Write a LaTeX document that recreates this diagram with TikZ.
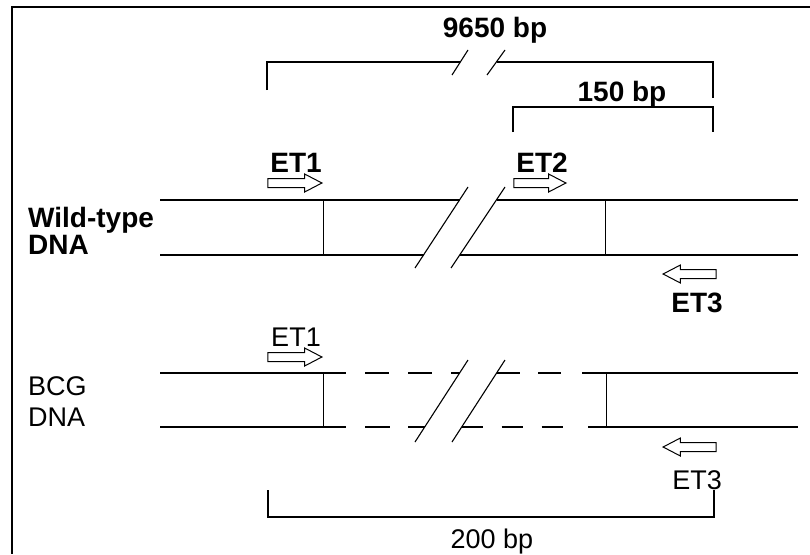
\documentclass[tikz,border=0pt]{standalone}
\usepackage{fontspec}
\setmainfont{Liberation Sans}
\usetikzlibrary{shapes.arrows}

\begin{document}
\begin{tikzpicture}[x=1pt,y=-1pt,
  dna/.style={line width=2.2pt},
  rung/.style={line width=0.8pt},
  brace/.style={line width=1.1pt},
  cut/.style={line width=1.1pt},
  gap/.style={line width=2.2pt,dash pattern=on 24pt off 19pt},
  lbl/.style={font=\fontsize{28}{30}\selectfont\bfseries,inner sep=0pt,anchor=base},
  lbln/.style={font=\fontsize{27}{29}\selectfont,inner sep=0pt,anchor=base},
  primer/.style={single arrow,draw,line width=1pt,inner sep=4pt,text height=0pt,text depth=0pt,text width=0pt,
    minimum height=54pt,single arrow head extend=4.5pt,single arrow tip angle=55,anchor=tip}]
\useasboundingbox (0,0) rectangle (810,554);
% frame
\draw[line width=1.5pt] (810,7) -- (12,7) -- (12,554);

% 9650 bp
\node[lbl] (l9650) at (495,37) {9650 bp};
\draw[brace] (267,90) -- (267,62) -- (460,62);
\draw[brace] (497,62) -- (713,62) -- (713,98);
\draw[cut] (452,75) -- (468,50);
\draw[cut] (487,75) -- (505,50);
% 150 bp
\node[lbl] (l150) at (622,101) {150 bp};
\draw[brace] (513,132) -- (513,107) -- (713,107) -- (713,132);

% wild-type
\node[lbl,anchor=base west] (wt) at (28,227) {Wild-type};
\node[lbl,anchor=base west] (wtdna) at (28,254) {DNA};
\draw[dna] (160,200) -- (459.5,200);
\draw[dna] (496.5,200) -- (798,200);
\draw[dna] (160,255) -- (423.5,255);
\draw[dna] (459.5,255) -- (798,255);
\draw[rung] (323,200) -- (323,255);
\draw[rung] (605,200) -- (605,255);
\draw[cut] (415,268) -- (468,187);
\draw[cut] (451,268) -- (505,187);
\node[lbl] (et1) at (296,172) {ET1};
\node[primer] (p1) at (323,183) {};
\node[lbl] (et2) at (542,172) {ET2};
\node[primer,minimum height=52pt] (p2) at (567,183) {};
\node[primer,minimum height=53pt,shape border rotate=180] (p3) at (662,274) {};
\node[lbl] (et3) at (697,312) {ET3};

% BCG
\node[lbln,anchor=base west] (bcg) at (28,395) {BCG};
\node[lbln,anchor=base west] (bcgdna) at (28,426) {DNA};
\draw[dna] (160,373) -- (346,373);
\draw[gap] (365,373) -- (459.6,373);
\draw[gap,dash pattern=on 23pt off 18pt] (497,373) -- (562,373);
\draw[dna] (582,373) -- (798,373);
\draw[dna] (160,427) -- (346,427);
\draw[gap,dash pattern=on 25pt off 18pt] (365,427) -- (424.7,427);
\draw[gap,dash pattern=on 21pt off 19pt] (461.7,427) -- (568,427);
\draw[dna] (588,427) -- (798,427);
\draw[rung] (323,373) -- (323,427);
\draw[rung] (606,373) -- (606,427);
\draw[cut] (415,442) -- (468,360);
\draw[cut] (452,442) -- (505,360);
\node[lbln] (et1b) at (296,346) {ET1};
\node[primer] (p1b) at (323,357) {};
\node[primer,minimum height=53pt,shape border rotate=180] (p3b) at (662,447) {};
\node[lbln] (et3b) at (697,489) {ET3};

% 200 bp
\draw[brace] (268,490) -- (268,517) -- (714,517) -- (714,490);
\node[lbln] (l200) at (492,548) {200 bp};
\end{tikzpicture}
\end{document}
